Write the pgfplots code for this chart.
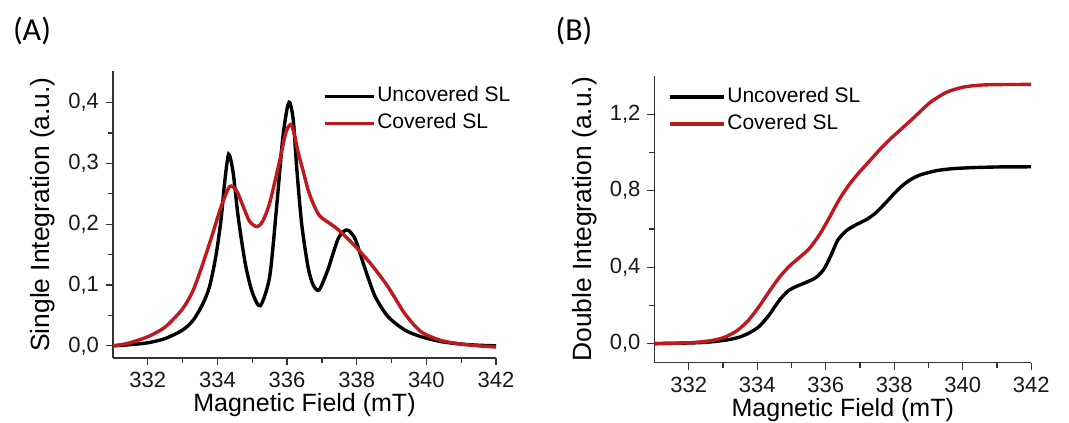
\documentclass[border=0pt]{standalone}
\usepackage{fontspec}
\setmainfont{Liberation Sans}
\newfontfamily\labelfont{Carlito}
\usepackage{pgfplots}
\pgfplotsset{compat=1.18}
\definecolor{myred}{RGB}{190,25,30}

\pgfplotstableread{
x y
331 0
331.5 0.002
332 0.005
332.5 0.012
333 0.026
333.3 0.042
333.58 0.069
333.77 0.097
333.95 0.146
334.1 0.206
334.2 0.265
334.32 0.315
334.45 0.285
334.6 0.21
334.8 0.135
335.0 0.088
335.23 0.066
335.5 0.114
335.7 0.229
335.87 0.339
336.0 0.39
336.08 0.40
336.18 0.37
336.28 0.29
336.42 0.2
336.6 0.13
336.75 0.1
336.92 0.092
337.17 0.125
337.45 0.174
337.62 0.188
337.76 0.19
337.96 0.175
338.25 0.125
338.53 0.081
338.9 0.048
339.38 0.026
339.85 0.015
340.42 0.007
340.98 0.003
341.5 0.001
342 0
}\singleUncov

\pgfplotstableread{
x y
331 0
331.42 0.004
332 0.015
332.5 0.031
333 0.061
333.3 0.091
333.58 0.135
333.86 0.184
334.1 0.228
334.35 0.262
334.55 0.255
334.74 0.229
334.92 0.205
335.13 0.196
335.3 0.205
335.5 0.235
335.77 0.30
335.96 0.35
336.1 0.364
336.2 0.35
336.31 0.32
336.45 0.29
336.64 0.25
336.92 0.215
337.36 0.196
337.64 0.182
338.02 0.16
338.43 0.133
338.9 0.097
339.38 0.053
339.85 0.023
340.42 0.009
340.98 0.003
341.5 0.0
342 -0.002
}\singleCov

\pgfplotstableread{
x y
331 0
332 0.003
332.6 0.008
333.18 0.021
333.5 0.035
333.77 0.056
334.06 0.09
334.35 0.15
334.64 0.225
334.9 0.275
335.13 0.298
335.4 0.318
335.71 0.345
335.95 0.39
336.15 0.46
336.35 0.54
336.6 0.59
336.89 0.622
337.2 0.65
337.47 0.685
337.77 0.74
338.0 0.785
338.26 0.83
338.5 0.86
338.75 0.882
339.24 0.905
339.7 0.915
340.21 0.92
341 0.924
342 0.925
}\doubleUncov

\pgfplotstableread{
x y
331 0
332 0.004
332.6 0.014
333.0 0.03
333.3 0.055
333.5 0.08
333.77 0.127
334.06 0.195
334.35 0.272
334.64 0.345
334.94 0.405
335.23 0.45
335.52 0.497
335.82 0.57
336.11 0.66
336.4 0.755
336.7 0.835
337.0 0.9
337.28 0.955
337.58 1.015
337.87 1.068
338.16 1.115
338.56 1.18
339.04 1.26
339.53 1.315
340.02 1.342
340.5 1.352
341 1.355
342 1.356
}\doubleCov

\pgfplotsset{
  myaxis/.style={
    scale only axis,
    axis lines*=left,
    axis line style={black!80, line width=0.6bp},
    tick style={black!80, line width=0.6bp},
    tick align=outside,
    xtick pos=left, ytick pos=left,
    major tick length=3.5bp, minor tick length=2.5bp,
    xmin=331, xmax=342,
    xtick={332,334,336,338,340,342},
    minor x tick num=1,
    minor y tick num=1,
    /pgf/number format/assume math mode=true,
    ticklabel style={font=\fontsize{11bp}{13bp}\selectfont, text=black!90},
    xticklabel style={/pgf/number format/.cd, fixed, precision=0, 1000 sep={}},
    yticklabel style={/pgf/number format/.cd, fixed, fixed zerofill, precision=1, use comma},
    label style={font=\fontsize{12.5bp}{15bp}\selectfont},
    ylabel style={font=\fontsize{13.2bp}{15bp}\selectfont, anchor=center},
    xlabel style={anchor=center},
    legend style={draw=none, fill=none, inner sep=0pt, outer sep=0pt,
      font=\fontsize{10.5bp}{12bp}\selectfont, row sep=1bp,
      nodes={inner sep=1bp, text height=8bp, text depth=2.5bp}},
    legend cell align=left,
    every axis plot/.append style={line width=1.7bp, smooth, tension=0.45},
  }
}

\begin{document}
\begin{tikzpicture}
\useasboundingbox (0,0) rectangle (534.5bp,211.5bp);

\begin{axis}[myaxis,
  at={(56.5bp,32.5bp)}, anchor=south west,
  width=191.5bp, height=143.5bp,
  ymin=-0.02, ymax=0.452,
  ytick={0,0.1,0.2,0.3,0.4},
  xlabel={Magnetic Field (mT)},
  ylabel={Single Integration (a.u.)},
  xlabel style={at={(axis description cs:0.5,-0.164)}},
  ylabel style={at={(axis description cs:-0.183,0.5)}},
  legend style={at={(axis description cs:0.548,0.955)}, anchor=north west},
  legend image code/.code={\draw[#1] (0bp,0bp) -- (24.5bp,0bp);},
]
\addplot[black] table[x=x,y=y] {\singleUncov};
\addlegendentry{Uncovered SL}
\addplot[myred] table[x=x,y=y] {\singleCov};
\addlegendentry{Covered SL}
\end{axis}

\begin{axis}[myaxis,
  at={(327.2bp,30.15bp)}, anchor=south west,
  width=188.4bp, height=143.35bp,
  ymin=-0.1, ymax=1.4,
  ytick={0,0.4,0.8,1.2},
  xlabel={Magnetic Field (mT)},
  ylabel={Double Integration (a.u.)},
  xlabel style={at={(axis description cs:0.5,-0.165)}},
  ylabel style={at={(axis description cs:-0.184,0.5)}},
  legend style={at={(axis description cs:0.036,0.97)}, anchor=north west},
  legend image code/.code={\draw[#1] (0bp,0bp) -- (27bp,0bp);},
]
\addplot[black] table[x=x,y=y] {\doubleUncov};
\addlegendentry{Uncovered SL}
\addplot[myred] table[x=x,y=y] {\doubleCov};
\addlegendentry{Covered SL}
\end{axis}

\node[font=\labelfont\fontsize{16bp}{18bp}\selectfont] at (16bp,196bp) {(A)};
\node[font=\labelfont\fontsize{16bp}{18bp}\selectfont] at (287bp,196bp) {(B)};
\end{tikzpicture}
\end{document}
